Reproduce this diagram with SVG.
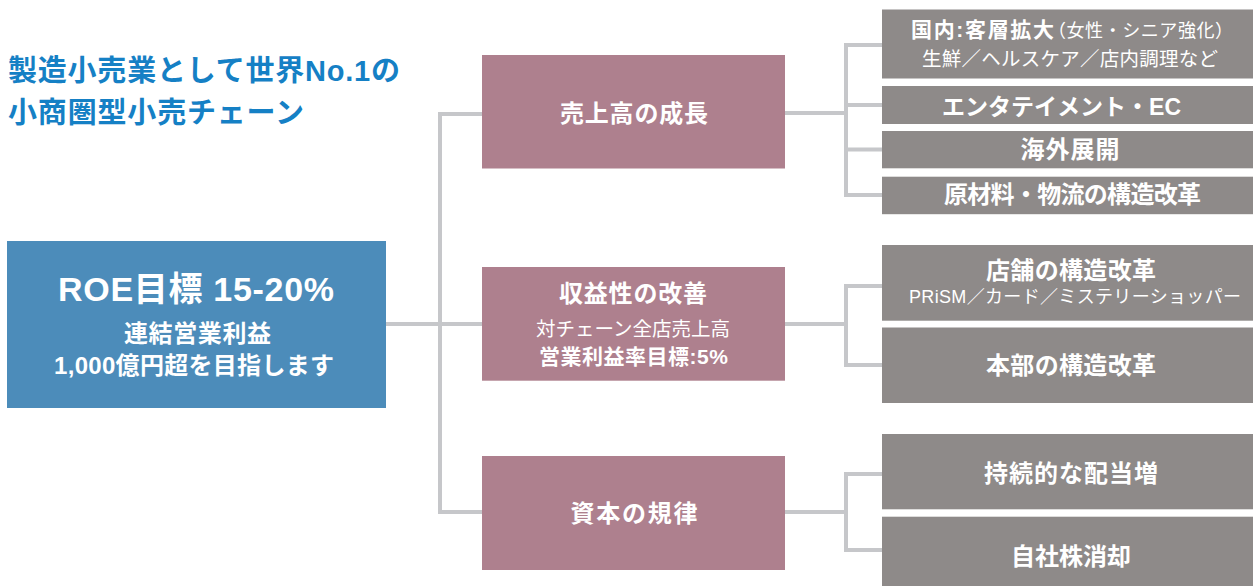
<svg xmlns="http://www.w3.org/2000/svg" width="1253" height="586" viewBox="0 0 1253 586">
<style>
.t{font-family:"Liberation Sans","Noto Sans CJK JP",sans-serif;fill:#fff;text-anchor:middle}
.s{text-anchor:start}
.b{font-weight:700}
.r{font-weight:400}
.title{font-family:"Liberation Sans","Noto Sans CJK JP",sans-serif;font-weight:700;font-size:29px;fill:#1580c5}
.blue{fill:#4c8cba}
.pink{fill:#ae808e}
.grey{fill:#8e8a89}
.conn{fill:none;stroke:#c6c7ca;stroke-width:4}
</style>
<rect width="1253" height="586" fill="#fff"/>
<g id="title">
<text class="title" x="8" y="81" textLength="392" lengthAdjust="spacing">製造小売業として世界No.1の</text>
<text class="title" x="8" y="123" textLength="296" lengthAdjust="spacing">小商圏型小売チェーン</text>
</g>
<g id="connectors">
<path class="conn" d="M386 324 H482"/>
<path class="conn" d="M482 114 H440 V512 H482"/>
<path class="conn" d="M785 113 H846"/>
<path class="conn" d="M882 45 H846 V195 H882 M846 105 H882 M846 149.5 H882"/>
<path class="conn" d="M785 324 H846"/>
<path class="conn" d="M882 286 H846 V365 H882"/>
<path class="conn" d="M785 512 H846"/>
<path class="conn" d="M882 474 H846 V550 H882"/>
</g>
<g id="roe">
<rect class="blue" x="7" y="241" width="379" height="167"/>
<text class="t b" x="196" y="301" style="font-size:34px" textLength="276" lengthAdjust="spacing">ROE目標 15-20%</text>
<text class="t b" x="197.5" y="342" style="font-size:24px" textLength="147" lengthAdjust="spacing">連結営業利益</text>
<text class="t b" x="194" y="374" style="font-size:24px" textLength="280" lengthAdjust="spacing">1,000億円超を目指します</text>
</g>
<g id="sales">
<rect class="pink" x="482" y="55" width="303" height="113.5"/>
<text class="t b" x="634" y="121.5" style="font-size:24px" textLength="148" lengthAdjust="spacing">売上高の成長</text>
</g>
<g id="profit">
<rect class="pink" x="482" y="267" width="303" height="113.7"/>
<text class="t b" x="633" y="302" style="font-size:24px" textLength="148" lengthAdjust="spacing">収益性の改善</text>
<text class="t r" x="633" y="335.5" style="font-size:19.5px" textLength="194" lengthAdjust="spacing">対チェーン全店売上高</text>
<text class="t b" x="633.5" y="363.5" style="font-size:21px" textLength="189" lengthAdjust="spacing">営業利益率目標:5%</text>
</g>
<g id="capital">
<rect class="pink" x="482" y="456" width="303" height="114"/>
<text class="t b" x="634" y="521.5" style="font-size:24px" textLength="127" lengthAdjust="spacing">資本の規律</text>
</g>
<g id="domestic">
<rect class="grey" x="882" y="9.5" width="371" height="69"/>
<text class="t b s" x="911" y="37" style="font-size:21px" textLength="143" lengthAdjust="spacing">国内:客層拡大</text>
<text class="t r s" x="1048" y="37" style="font-size:18px" textLength="185" lengthAdjust="spacing">（女性・シニア強化）</text>
<text class="t r" x="1070" y="65.5" style="font-size:19.5px" textLength="296" lengthAdjust="spacing">生鮮／ヘルスケア／店内調理など</text>
</g>
<g id="ec">
<rect class="grey" x="882" y="86" width="371" height="38"/>
<text class="t b" x="1061.5" y="115" style="font-size:23px" textLength="239" lengthAdjust="spacing">エンタテイメント・EC</text>
</g>
<g id="overseas">
<rect class="grey" x="882" y="131" width="371" height="37.3"/>
<text class="t b" x="1070" y="158" style="font-size:24px" textLength="99" lengthAdjust="spacing">海外展開</text>
</g>
<g id="materials">
<rect class="grey" x="882" y="176.7" width="371" height="37.5"/>
<text class="t b" x="1072.5" y="202.5" style="font-size:24px" textLength="257" lengthAdjust="spacing">原材料・物流の構造改革</text>
</g>
<g id="stores">
<rect class="grey" x="882" y="245" width="371" height="75.7"/>
<text class="t b" x="1071" y="278.5" style="font-size:24px" textLength="170" lengthAdjust="spacing">店舗の構造改革</text>
<text class="t r" x="1075" y="303" style="font-size:18px" textLength="332" lengthAdjust="spacing">PRiSM／カード／ミステリーショッパー</text>
</g>
<g id="hq">
<rect class="grey" x="882" y="327.5" width="371" height="75.5"/>
<text class="t b" x="1071" y="373.5" style="font-size:24px" textLength="170" lengthAdjust="spacing">本部の構造改革</text>
</g>
<g id="dividend">
<rect class="grey" x="882" y="434" width="371" height="75.3"/>
<text class="t b" x="1071" y="482" style="font-size:24px" textLength="174" lengthAdjust="spacing">持続的な配当増</text>
</g>
<g id="buyback">
<rect class="grey" x="882" y="516.7" width="371" height="69.3"/>
<text class="t b" x="1071" y="565" style="font-size:24px" textLength="120" lengthAdjust="spacing">自社株消却</text>
</g>
</svg>
